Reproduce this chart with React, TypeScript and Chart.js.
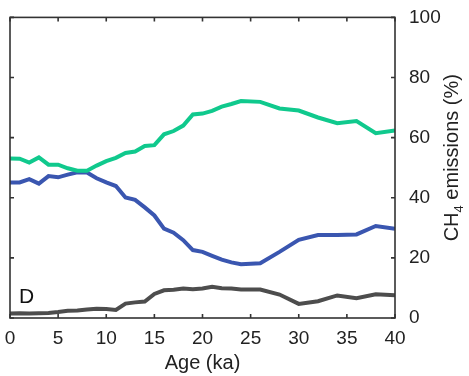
import React, { useEffect, useRef } from 'react';
import { Chart, registerables } from 'chart.js';

Chart.register(...registerables);

const ages = [0, 1, 2, 3, 4, 5, 6, 7, 8, 9, 10, 11, 12, 13, 14, 15, 16, 17, 18, 19, 20, 21, 22, 23, 24, 26, 28, 30, 32, 34, 36, 38, 40];
const greenSeries = [53.1, 53.0, 51.7, 53.4, 51.0, 51.0, 49.8, 49.0, 49.0, 50.7, 52.2, 53.3, 54.9, 55.4, 57.2, 57.5, 61.1, 62.2, 64.0, 67.7, 68.0, 68.9, 70.3, 71.2, 72.2, 71.9, 69.7, 69.0, 66.7, 64.8, 65.5, 61.5, 62.4];
const blueSeries = [45.1, 45.1, 46.2, 44.7, 47.2, 46.8, 47.7, 48.5, 48.4, 46.5, 45.1, 43.9, 40.1, 39.3, 36.8, 34.1, 29.7, 28.4, 25.9, 22.6, 22.0, 20.7, 19.4, 18.5, 17.9, 18.2, 22.0, 26.0, 27.6, 27.6, 27.8, 30.6, 29.7];
const greySeries = [1.5, 1.6, 1.5, 1.6, 1.7, 2.0, 2.4, 2.5, 2.8, 3.1, 3.0, 2.7, 4.8, 5.2, 5.5, 8.0, 9.2, 9.4, 9.8, 9.6, 9.8, 10.4, 9.9, 9.8, 9.5, 9.5, 7.8, 4.7, 5.6, 7.5, 6.6, 7.9, 7.6];

const xTickValues = [0, 5, 10, 15, 20, 25, 30, 35, 40];
const yTickValues = [0, 20, 40, 60, 80, 100];
const xTitle = 'Age (ka)';
const yTitleMain = 'CH';
const yTitleSub = '4';
const yTitleRest = ' emissions (%)';
const panelLabel = 'D';

const FONT = '"Liberation Sans", Arial, Helvetica, sans-serif';

const framePlugin = {
  id: 'frame',
  afterDraw(chart: any) {
    const { ctx, chartArea: a, scales } = chart;
    const xs = scales.x;
    const ys = scales.y;
    ctx.save();
    ctx.strokeStyle = '#333333';
    ctx.lineWidth = 1.6;
    ctx.strokeRect(a.left, a.top, a.right - a.left, a.bottom - a.top);
    const tl = 4;
    ctx.beginPath();
    for (const v of xTickValues) {
      const px = xs.getPixelForValue(v);
      ctx.moveTo(px, a.bottom);
      ctx.lineTo(px, a.bottom - tl);
      ctx.moveTo(px, a.top);
      ctx.lineTo(px, a.top + tl);
    }
    for (const v of yTickValues) {
      const py = ys.getPixelForValue(v);
      ctx.moveTo(a.left, py);
      ctx.lineTo(a.left + tl, py);
      ctx.moveTo(a.right, py);
      ctx.lineTo(a.right - tl, py);
    }
    ctx.stroke();

    // panel label
    ctx.fillStyle = '#111111';
    ctx.font = `21px ${FONT}`;
    ctx.textAlign = 'left';
    ctx.textBaseline = 'alphabetic';
    ctx.fillText(panelLabel, a.left + 9, a.bottom - 15);

    // right axis title with subscript
    const big = `20px ${FONT}`;
    const small = `13px ${FONT}`;
    ctx.font = big;
    const w1 = ctx.measureText(yTitleMain).width;
    const w3 = ctx.measureText(yTitleRest).width;
    ctx.font = small;
    const w2 = ctx.measureText(yTitleSub).width;
    const total = w1 + w2 + w3;
    ctx.translate(a.right + 56, (a.top + a.bottom) / 2 - 10);
    ctx.rotate(-Math.PI / 2);
    let x0 = -total / 2;
    const base = 7;
    ctx.fillStyle = '#222222';
    ctx.font = big;
    ctx.fillText(yTitleMain, x0, base);
    x0 += w1;
    ctx.font = small;
    ctx.fillText(yTitleSub, x0, base + 5);
    x0 += w2;
    ctx.font = big;
    ctx.fillText(yTitleRest, x0, base);
    ctx.restore();
  },
};

export default function App() {
  const ref = useRef<HTMLCanvasElement | null>(null);
  useEffect(() => {
    if (!ref.current) return;
    const line = (data: number[], color: string) => ({
      data: ages.map((t, i) => ({ x: t, y: data[i] })),
      borderColor: color,
      backgroundColor: color,
      borderWidth: 4,
      pointRadius: 0,
      tension: 0,
      fill: false,
    });
    const chart = new Chart(ref.current, {
      type: 'line',
      data: {
        datasets: [
          line(greySeries, '#4d4d4d'),
          line(greenSeries, '#10c98d'),
          line(blueSeries, '#3a56b0'),
        ],
      },
      options: {
        responsive: false,
        animation: false,
        devicePixelRatio: 1,
        layout: { padding: { top: 14, left: 10, right: 0, bottom: 0 } },
        plugins: { legend: { display: false }, tooltip: { enabled: false } },
        scales: {
          x: {
            type: 'linear',
            min: 0,
            max: 40,
            afterFit: (s: any) => { s.height = 58; },
            afterBuildTicks: (s: any) => { s.ticks = xTickValues.map((v) => ({ value: v })); },
            grid: { display: false },
            border: { display: false },
            ticks: { autoSkip: false, maxRotation: 0, padding: 1, color: '#222222', font: { size: 19, family: FONT } },
            title: { display: true, text: xTitle, color: '#222222', font: { size: 20, family: FONT }, padding: { top: 0, bottom: 1 } },
          },
          y: {
            type: 'linear',
            position: 'right',
            min: 0,
            max: 100,
            afterFit: (s: any) => { s.width = 74; },
            afterBuildTicks: (s: any) => { s.ticks = yTickValues.map((v) => ({ value: v })); },
            grid: { display: false },
            border: { display: false },
            ticks: { padding: 6, color: '#222222', font: { size: 19, family: FONT } },
          },
        },
      },
      plugins: [framePlugin],
    });
    return () => chart.destroy();
  }, []);
  return (
    <div style={{ position: 'fixed', left: 0, top: 0, width: 469, height: 376, background: '#ffffff' }}>
      <canvas ref={ref} width={469} height={376} />
    </div>
  );
}
